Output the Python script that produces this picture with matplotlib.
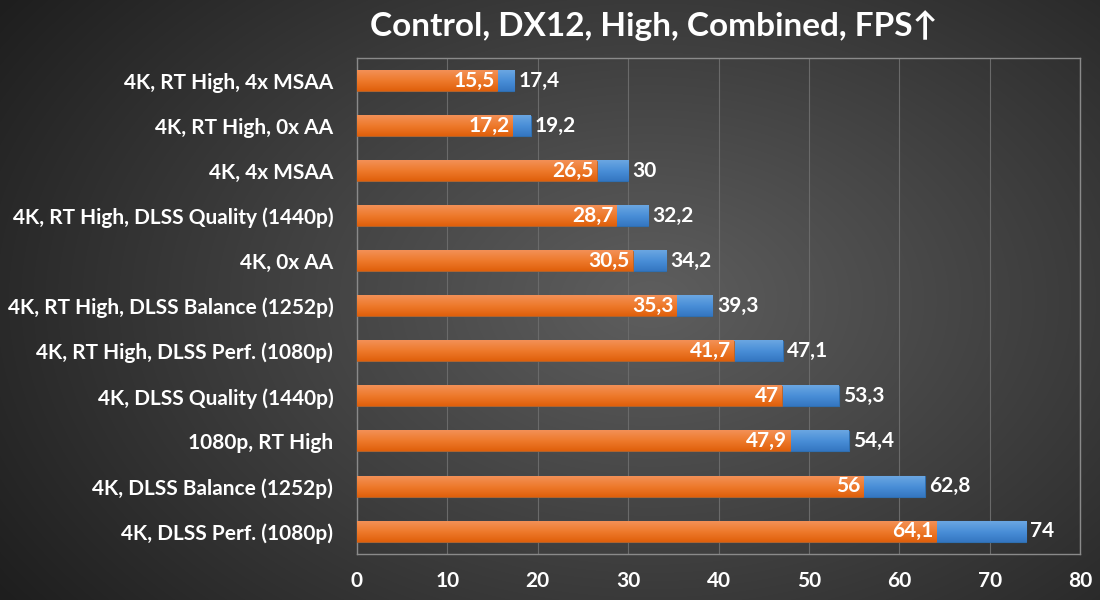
import numpy as np
import matplotlib.pyplot as plt
from matplotlib.colors import LinearSegmentedColormap

categories = ['4K, RT High, 4x MSAA', '4K, RT High, 0x AA', '4K, 4x MSAA',
              '4K, RT High, DLSS Quality (1440p)', '4K, 0x AA',
              '4K, RT High, DLSS Balance (1252p)', '4K, RT High, DLSS Perf. (1080p)',
              '4K, DLSS Quality (1440p)', '1080p, RT High',
              '4K, DLSS Balance (1252p)', '4K, DLSS Perf. (1080p)']
min_fps = [15.5, 17.2, 26.5, 28.7, 30.5, 35.3, 41.7, 47, 47.9, 56, 64.1]
avg_fps = [17.4, 19.2, 30, 32.2, 34.2, 39.3, 47.1, 53.3, 54.4, 62.8, 74]
x_ticks = [0, 10, 20, 30, 40, 50, 60, 70, 80]

FONT = ['Lato', 'DejaVu Sans']
plt.rcParams['font.family'] = FONT
plt.rcParams['font.weight'] = 'bold'


def fmt(v):
    s = f'{v:g}'
    return s.replace('.', ',')


fig = plt.figure(figsize=(11, 6), dpi=100)

# radial gradient background
bg = fig.add_axes([0, 0, 1, 1])
yy, xx = np.mgrid[0:600, 0:1100]
r = np.sqrt(((xx - 650) / 750.0) ** 2 + ((yy - 300) / 500.0) ** 2)
shade = np.clip(0.37 - 0.24 * r, 0.12, 0.4)
bg.imshow(np.dstack([shade] * 3), aspect='auto', extent=[0, 1, 0, 1])
bg.axis('off')

ax = fig.add_axes([0.3245, 0.0767, 0.6575, 0.8263])
ax.patch.set_alpha(0)
y = np.arange(len(categories))
h = 0.45
orange = LinearSegmentedColormap.from_list('o', ['#f39056', '#ee7a2c', '#e0600c'])
blue = LinearSegmentedColormap.from_list('b', ['#6aa6e2', '#4a8fd8', '#3577c2'])
grad = np.linspace(0, 1, 32).reshape(-1, 1)

bars_avg = ax.barh(y, avg_fps, height=h, color='#4a8fd8', edgecolor='#2f6fb0', linewidth=0.8, zorder=2)
bars_min = ax.barh(y, min_fps, height=h, color='#f07b28', edgecolor='#c05a10', linewidth=0.5, zorder=3)
for bars, cmap, z in ((bars_avg, blue, 2.1), (bars_min, orange, 3.1)):
    for b in bars:
        x0, y0 = b.get_x(), b.get_y()
        ax.imshow(grad, cmap=cmap, aspect='auto', zorder=z,
                  extent=[x0, x0 + b.get_width(), y0 + b.get_height(), y0])

for yi, mn, av in zip(y, min_fps, avg_fps):
    ax.text(mn - 0.3, yi, fmt(mn), ha='right', va='center', color='white',
            fontsize=15, fontweight='bold', zorder=4)
    ax.text(av + 0.5, yi, fmt(av), ha='left', va='center', color='white',
            fontsize=15, fontweight='bold', zorder=4)

ax.set_xlim(0, 80)
ax.set_ylim(len(categories) - 0.5, -0.5)
ax.set_xticks(x_ticks)
ax.set_yticks(y)
ax.set_yticklabels(categories)
ax.tick_params(axis='both', colors='white', labelsize=15, length=0)
ax.tick_params(axis='x', pad=12)
ax.tick_params(axis='y', pad=17)
for lbl in ax.get_xticklabels() + ax.get_yticklabels():
    lbl.set_fontweight('bold')
ax.grid(axis='x', color='#6a6a6a', linewidth=0.8, zorder=0)
ax.set_axisbelow(True)
for s in ax.spines.values():
    s.set_color('#8a8a8a')
    s.set_linewidth(1)

fig.text(0.594, 0.957, 'Control, DX12, High, Combined, FPS↑', ha='center', va='center',
         color='white', fontsize=24, fontweight='bold', family=FONT)

fig.savefig('out.png', dpi=100)
